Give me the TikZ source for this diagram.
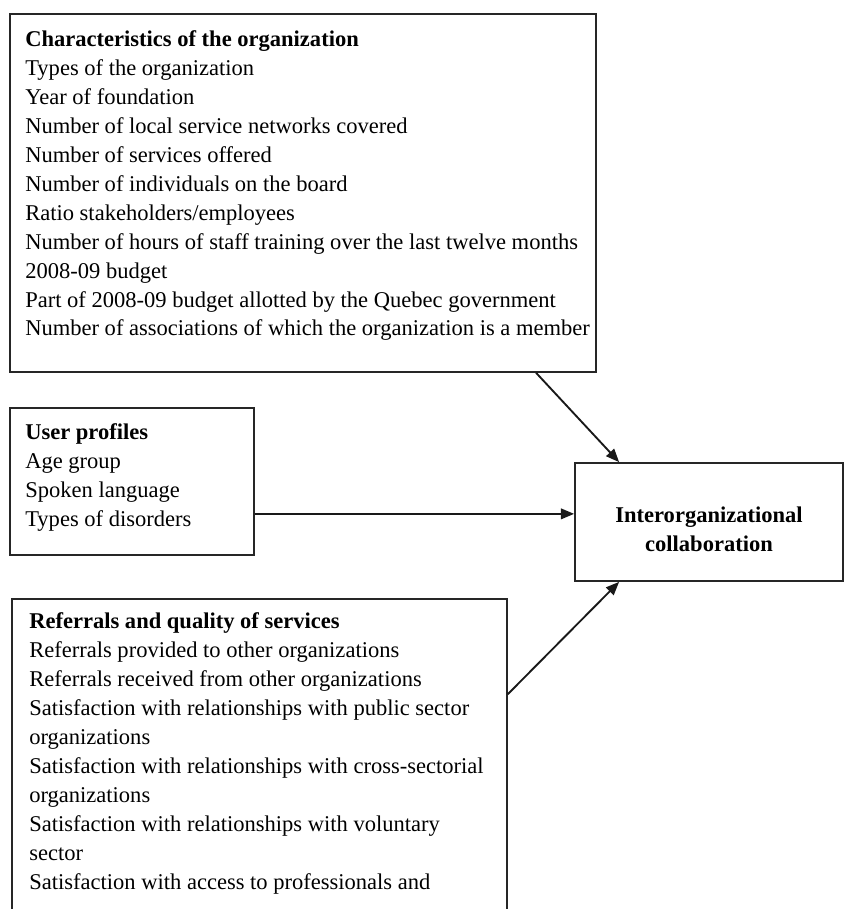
\documentclass[tikz,border=0pt]{standalone}
\usepackage{fontspec}
\setmainfont{Liberation Serif}
\usetikzlibrary{arrows.meta,calc,fit}

\begin{document}
\begin{tikzpicture}[
  x=0.75pt, y=-0.75pt,
  box/.style={draw=black!85, line width=1.3pt, inner sep=0pt},
  txt/.style={anchor=north west, inner sep=0pt, align=left,
              font=\fontsize{16.9}{21.7}\selectfont},
  arrow/.style={-{Triangle[length=10pt,width=8pt]}, line width=1.4pt, black!90}]

\useasboundingbox (0,0) rectangle (844,909);
\clip (0,0) rectangle (844,909);

% boxes
\node[box, fit={(10,14) (596,372)}] (orgchar) {};
\node[box, fit={(10,408) (254,555)}] (users) {};
\node[box, fit={(12,599) (507,940)}] (referrals) {};
\node[box, fit={(575,463) (843,581)}] (collab) {};

% box contents
\node[txt] (orgtxt) at (25,30.5) {\textbf{Characteristics of the organization}\\
  Types of the organization\\
  Year of foundation\\
  Number of local service networks covered\\
  Number of services offered\\
  Number of individuals on the board\\
  Ratio stakeholders/employees\\
  Number of hours of staff training over the last twelve months\\
  2008-09 budget\\
  Part of 2008-09 budget allotted by the Quebec government\\
  Number of associations of which the organization is a member};

\node[txt] (usertxt) at (25,423.5) {\textbf{User profiles}\\
  Age group\\
  Spoken language\\
  Types of disorders};

\node[txt] (reftxt) at (29,612.5) {\textbf{Referrals and quality of services}\\
  Referrals provided to other organizations\\
  Referrals received from other organizations\\
  Satisfaction with relationships with public sector\\
  organizations\\
  Satisfaction with relationships with cross-sectorial\\
  organizations\\
  Satisfaction with relationships with voluntary\\
  sector\\
  Satisfaction with access to professionals and};

\node[txt, anchor=center, align=center] (collabtxt) at ($(collab.center)+(0,7)$)
  {\textbf{Interorganizational}\\\textbf{collaboration}};

% connectors
\draw[arrow] ($(orgchar.south west)+(527,0)$) -- ($(collab.north west)+(45,0)$);
\draw[arrow] ($(users.south east)+(0,-42)$) -- ($(collab.south west)+(0,-68)$);
\draw[arrow] ($(referrals.north east)+(0,96)$) -- ($(collab.south west)+(45,0)$);
\end{tikzpicture}
\end{document}
